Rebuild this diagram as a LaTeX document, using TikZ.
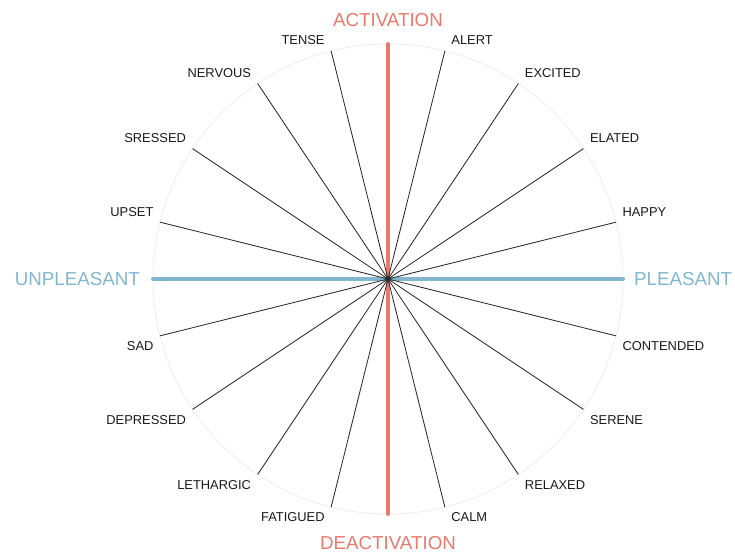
\documentclass[tikz,border=0pt]{standalone}
\usepackage{fontspec}
\setmainfont{Liberation Sans}
\usetikzlibrary{positioning}

\definecolor{actred}{RGB}{234,121,108}
\definecolor{pleasblue}{RGB}{128,183,206}

\begin{document}
\begin{tikzpicture}[
        mood/.style={inner sep=0pt, font=\fontsize{11}{13}\selectfont, text=black!90},
        axislabel/.style={inner sep=0pt, font=\fontsize{16}{19}\selectfont},
        spoke/.style={draw=black!85, line width=0.7pt},
        ring/.style={draw=black!7, line width=0.7pt},
        vaxis/.style={draw=actred, line width=3.4pt, line cap=round},
        haxis/.style={draw=pleasblue, line width=3.4pt, line cap=round}
    ]
        \useasboundingbox (-11.64,-8.22) rectangle (10.41,8.37);
        \def\rad{7.05}

        % Wheel
        \coordinate (c) at (0,0);
        \draw[ring] (c) circle[radius=\rad];

        % Axes
        \coordinate (top) at (90:\rad);
        \coordinate (bottom) at (270:\rad);
        \coordinate (left) at (180:\rad);
        \coordinate (right) at (0:\rad);
        \draw[vaxis] (top) -- (bottom);
        \draw[haxis] (left) -- (right);

        \node (act) [axislabel, text=actred, above=0.51cm of top] {ACTIVATION};
        \node (deact) [axislabel, text=actred, below=0.66cm of bottom] {DEACTIVATION};
        \node (unpl) [axislabel, text=pleasblue, left=0.39cm of left] {UNPLEASANT};
        \node (pl) [axislabel, text=pleasblue, right=0.33cm of right] {PLEASANT};

        % Pleasant / activation
        \foreach \ang/\word [count=\i] in {14/HAPPY, 33.7/ELATED, 56.3/EXCITED, 76/ALERT} {
            \coordinate (pa\i) at (\ang:\rad);
            \draw[spoke] (c) -- (pa\i);
            \node (lpa\i) [mood, anchor=west, xshift=0.19cm, yshift=0.315cm] at (pa\i) {\word};
        }

        % Unpleasant / activation
        \foreach \ang/\word [count=\i] in {104/TENSE, 123.7/NERVOUS, 146.3/SRESSED, 166/UPSET} {
            \coordinate (ua\i) at (\ang:\rad);
            \draw[spoke] (c) -- (ua\i);
            \node (lua\i) [mood, anchor=east, xshift=-0.19cm, yshift=0.315cm] at (ua\i) {\word};
        }

        % Unpleasant / deactivation
        \foreach \ang/\word [count=\i] in {194/SAD, 213.7/DEPRESSED, 236.3/LETHARGIC, 256/FATIGUED} {
            \coordinate (ud\i) at (\ang:\rad);
            \draw[spoke] (c) -- (ud\i);
            \node (lud\i) [mood, anchor=east, xshift=-0.19cm, yshift=-0.315cm] at (ud\i) {\word};
        }

        % Pleasant / deactivation
        \foreach \ang/\word [count=\i] in {284/CALM, 303.7/RELAXED, 326.3/SERENE, 346/CONTENDED} {
            \coordinate (pd\i) at (\ang:\rad);
            \draw[spoke] (c) -- (pd\i);
            \node (lpd\i) [mood, anchor=west, xshift=0.19cm, yshift=-0.315cm] at (pd\i) {\word};
        }
    \end{tikzpicture}
\end{document}
